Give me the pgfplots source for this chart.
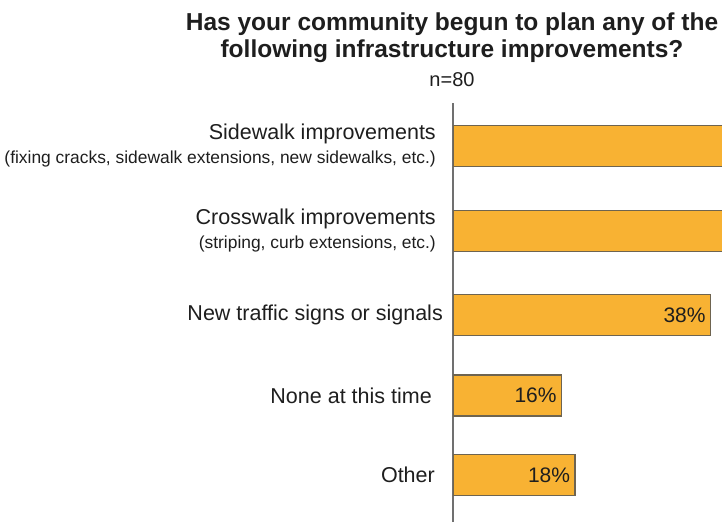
\documentclass[border=0pt]{standalone}
\usepackage{pgfplots}
\pgfplotsset{compat=1.18}
\usepackage{fontspec}
\setmainfont{Liberation Sans}

\definecolor{barfill}{HTML}{F8B233}
\definecolor{baredge}{HTML}{6E6450}
\definecolor{axisgray}{HTML}{707070}
\definecolor{txt}{HTML}{1E1E1E}
\newcommand\mainlab{\fontsize{21.5}{24}\selectfont}
\newcommand\sublab{\fontsize{17.4}{20}\selectfont}

\begin{document}
\begin{tikzpicture}[x=1pt,y=1pt]
\useasboundingbox (0,0) rectangle (722,522);
\begin{axis}[
	at={(453pt,0pt)}, anchor=south west,
	scale only axis, width=269pt, height=419pt,
	xbar, bar shift=0pt, bar width=41pt,
	xmin=0, xmax=39.7, ymin=0, ymax=419,
	axis x line=none, axis y line=left,
	y axis line style={-, draw=axisgray, line width=1.4pt},
	ytick={47,126.5,207,291,376},
	yticklabels={Other\hspace*{1pt},
		None at this time\hspace*{4pt},
		New traffic signs or signals\hspace*{-7pt},
		{Crosswalk improvements\\[0pt]{\sublab (striping, curb extensions, etc.)}},
		{Sidewalk improvements\\[0pt]{\sublab (fixing cracks, sidewalk extensions, new sidewalks, etc.)}}},
	major tick length=0pt,
	yticklabel style={font=\mainlab, text=txt, align=right, anchor=east, inner sep=0pt, xshift=-17pt},
	/pgf/number format/assume math mode=true,
]
% first two bars run past the right edge of the picture
\addplot[fill=barfill, draw=baredge, line width=1.1pt] coordinates {
	(55,376)
	(49,291)
};
\addplot[fill=barfill, draw=baredge, line width=1.1pt,
	nodes near coords={\pgfmathprintnumber{\pgfplotspointmeta}\%},
	nodes near coords style={anchor=east, xshift=-1pt, text=txt, font=\fontsize{21}{24}\selectfont}] coordinates {
	(38,207)
	(16,126.5)
	(18,47)
};
\end{axis}
\node[anchor=base, text=txt, font=\bfseries\fontsize{24.5}{27}\selectfont] at (452,491) {Has your community begun to plan any of the};
\node[anchor=base, text=txt, font=\bfseries\fontsize{24.5}{27}\selectfont] at (452,464) {following infrastructure improvements?};
\node[anchor=base, text=txt, font=\fontsize{20}{24}\selectfont] at (452,435) {n=80};
\end{tikzpicture}
\end{document}
